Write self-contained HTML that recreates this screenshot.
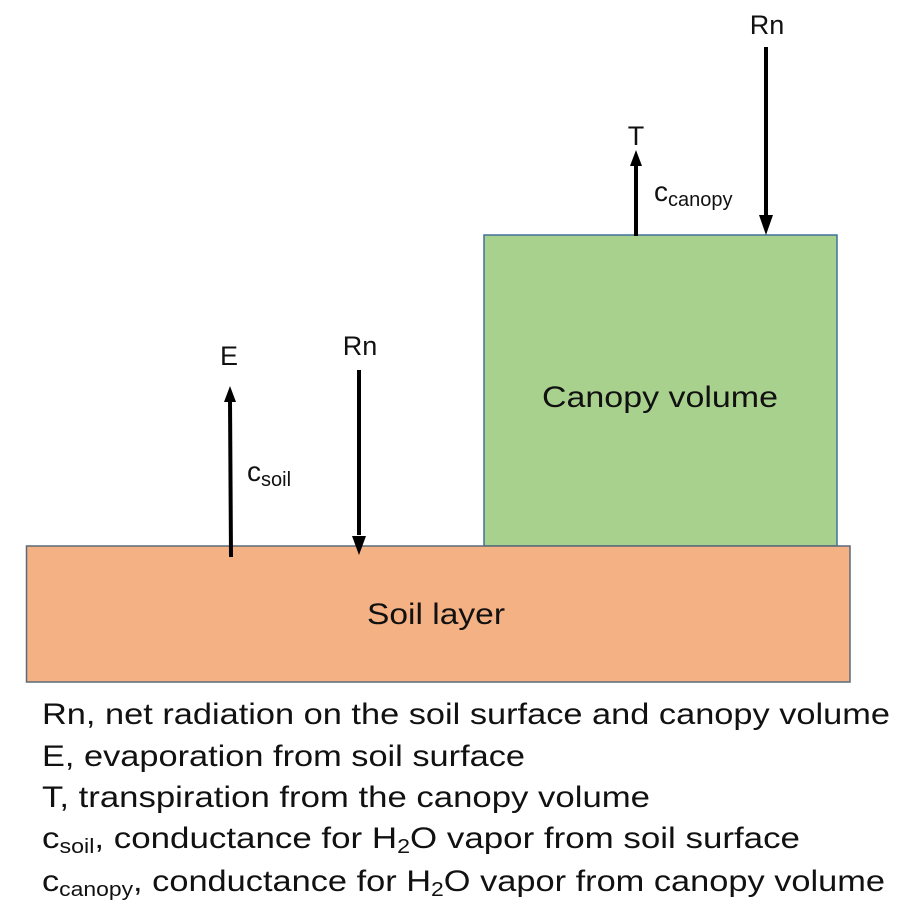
<!DOCTYPE html>
<html><head><meta charset="utf-8"><style>
html,body{margin:0;padding:0;background:#fff;}
svg{display:block;}
text{font-family:"Liberation Sans",sans-serif;fill:#111;}
</style></head><body>
<svg width="900" height="913" viewBox="0 0 900 913" xmlns="http://www.w3.org/2000/svg">
<rect x="484" y="235" width="353" height="311" fill="#a9d18e" stroke="#41719c" stroke-width="1.5"/>
<rect x="26.5" y="546" width="823.5" height="136" fill="#f4b183" stroke="#5a6a7a" stroke-width="1.5"/>
<text x="660" y="407" font-size="30" text-anchor="middle" textLength="236" lengthAdjust="spacingAndGlyphs">Canopy volume</text>
<text x="436" y="624" font-size="30" text-anchor="middle" textLength="138" lengthAdjust="spacingAndGlyphs">Soil layer</text>
<g stroke="#000" stroke-width="4">
<line x1="231" y1="557" x2="230" y2="400"/>
<line x1="359" y1="370" x2="359" y2="535"/>
<line x1="636" y1="236" x2="636" y2="165"/>
<line x1="766" y1="47" x2="766" y2="215"/>
</g>
<g fill="#000">
<polygon points="230,386 224,402 236,402"/>
<polygon points="359,555 352,536 366,536"/>
<polygon points="636,150 630,166 642,166"/>
<polygon points="766,235 759,215 773,215"/>
</g>
<text x="229" y="365" font-size="27" text-anchor="middle">E</text>
<text x="360" y="355" font-size="27" text-anchor="middle">Rn</text>
<text x="636" y="145" font-size="27" text-anchor="middle">T</text>
<text x="767" y="34" font-size="27" text-anchor="middle">Rn</text>
<text x="247" y="481" font-size="28">c<tspan font-size="20" dy="5">soil</tspan></text>
<text x="654" y="201" font-size="28">c<tspan font-size="20" dy="5">canopy</tspan></text>
<text x="42" y="724" font-size="30" textLength="848" lengthAdjust="spacingAndGlyphs">Rn, net radiation on the soil surface and canopy volume</text>
<text x="42" y="766" font-size="30" textLength="483" lengthAdjust="spacingAndGlyphs">E, evaporation from soil surface</text>
<text x="42" y="807" font-size="30" textLength="608" lengthAdjust="spacingAndGlyphs">T, transpiration from the canopy volume</text>
<text x="42" y="848" font-size="30" textLength="758" lengthAdjust="spacingAndGlyphs">c<tspan font-size="20" dy="5">soil</tspan><tspan dy="-5">, conductance for H</tspan><tspan font-size="20" dy="5">2</tspan><tspan dy="-5">O vapor from soil surface</tspan></text>
<text x="42" y="891" font-size="30" textLength="843" lengthAdjust="spacingAndGlyphs">c<tspan font-size="20" dy="5">canopy</tspan><tspan dy="-5">, conductance for H</tspan><tspan font-size="20" dy="5">2</tspan><tspan dy="-5">O vapor from canopy volume</tspan></text>
</svg>
</body></html>
